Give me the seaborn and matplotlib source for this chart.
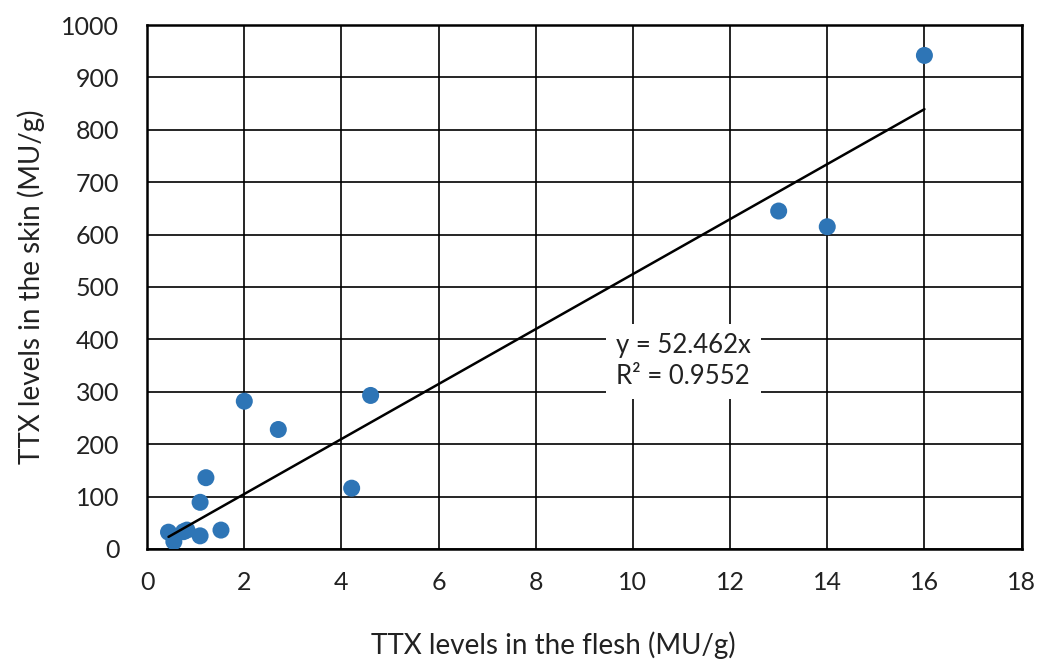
import matplotlib
matplotlib.use("Agg")
import matplotlib.pyplot as plt
import seaborn as sns
import numpy as np
import pandas as pd

flesh = [0.44, 0.55, 0.75, 0.82, 1.09, 1.09, 1.21, 1.52, 2.0, 2.7, 4.21, 4.6, 13.0, 14.0, 16.0]
skin = [32, 14, 33, 36, 25, 89, 136, 36, 282, 228, 116, 293, 645, 615, 942]
slope = 52.462
r2 = 0.9552
x_ticks = [0, 2, 4, 6, 8, 10, 12, 14, 16, 18]
y_ticks = [0, 100, 200, 300, 400, 500, 600, 700, 800, 900, 1000]

sns.set_theme(style="white")
plt.rcParams['font.family'] = ['Lato', 'DejaVu Sans']

df = pd.DataFrame({"flesh": flesh, "skin": skin})

fig = plt.figure(figsize=(10.51, 6.59), dpi=100)
ax = fig.add_axes([0.140, 0.167, 0.832, 0.795])

ax.set_xlim(0, 18)
ax.set_ylim(0, 1000)
ax.set_xticks(x_ticks)
ax.set_yticks(y_ticks)
ax.grid(True, color="black", linewidth=1.2)
ax.set_axisbelow(True)

sns.scatterplot(data=df, x="flesh", y="skin", ax=ax, color="#2E75B6", s=150,
                edgecolor="none", zorder=4)
xs = np.array([min(flesh), max(flesh)])
sns.lineplot(x=xs, y=slope * xs, ax=ax, color="black", linewidth=1.8, zorder=5)

for s in ax.spines.values():
    s.set_color("black")
    s.set_linewidth(1.8)

ax.tick_params(axis="both", length=0, labelsize=18, colors="#222222")
ax.tick_params(axis="x", pad=16)
ax.tick_params(axis="y", pad=20)

ax.set_xlabel("TTX levels in the flesh (MU/g)", fontsize=20, color="#222222")
ax.set_ylabel("TTX levels in the skin (MU/g)", fontsize=20, color="#222222", labelpad=12)
ax.xaxis.set_label_coords(0.464, -0.158)

ax.text(9.65, 358, f"y = {slope}x\nR² = {r2}", fontsize=18.5, color="#222222",
        ha="left", va="center", linespacing=1.3, zorder=6,
        bbox=dict(facecolor="white", edgecolor="none", pad=7))

fig.savefig("out.png", dpi=100)
